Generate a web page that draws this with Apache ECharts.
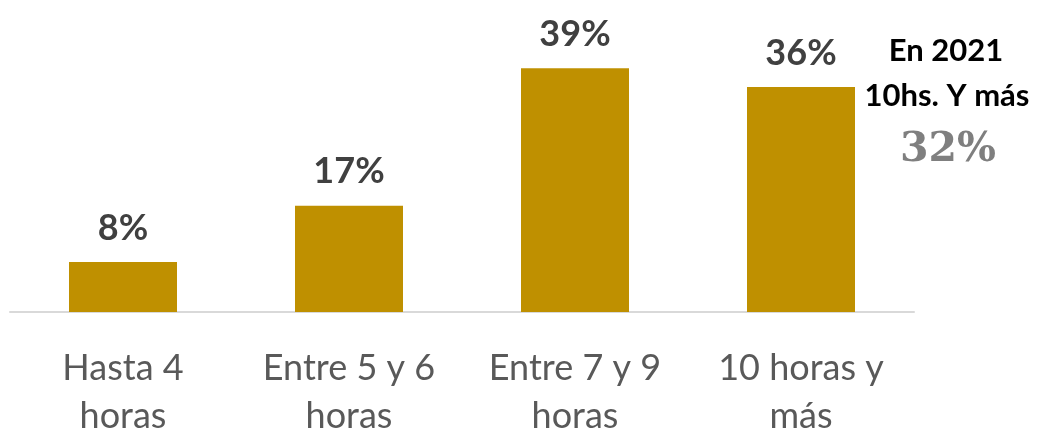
<!DOCTYPE html>
<html>
<head>
<meta charset="utf-8">
<script src="https://cdn.jsdelivr.net/npm/echarts@6/dist/echarts.min.js"></script>
<style>html,body{margin:0;padding:0;background:#fff;}#c{width:1043px;height:435px;}</style>
</head>
<body>
<div id="c"></div>
<script>
const categories = ['Hasta 4\nhoras', 'Entre 5 y 6\nhoras', 'Entre 7 y 9\nhoras', '10 horas y\nmás'];
const values = [8, 17, 39, 36];
const noteTitle = ['En 2021', '10hs. Y más'];
const noteValue = '32%';

const chart = echarts.init(document.getElementById('c'));
chart.setOption({
  animation: false,
  grid: { left: 10, right: 129, top: 62, bottom: 123, containLabel: false, outerBoundsMode: 'none' },
  xAxis: {
    type: 'category',
    data: categories,
    axisLine: { lineStyle: { color: '#d9d9d9', width: 2 } },
    axisTick: { show: false },
    axisLabel: { color: '#595959', fontSize: 36, fontFamily: 'Lato', lineHeight: 48, margin: 32 }
  },
  yAxis: { type: 'value', min: 0, max: 40, show: false, splitLine: { show: false } },
  series: [{
    type: 'bar',
    data: values,
    barWidth: 108,
    itemStyle: { color: '#BF9000' },
    label: {
      show: true, position: 'top', distance: 16,
      formatter: '{c}%', color: '#404040', fontSize: 36, fontWeight: 'bold', fontFamily: 'Lato'
    }
  }],
  graphic: [
    { type: 'text', x: 946, y: 51, style: { text: noteTitle[0], textAlign: 'center', textVerticalAlign: 'middle', fill: '#000', font: 'bold 31px Lato' } },
    { type: 'text', x: 947, y: 96, style: { text: noteTitle[1], textAlign: 'center', textVerticalAlign: 'middle', fill: '#000', font: 'bold 31px Lato' } },
    { type: 'text', x: 948, y: 150, style: { text: noteValue, textAlign: 'center', textVerticalAlign: 'middle', fill: '#7f7f7f', font: 'bold 41px "DejaVu Serif"' } }
  ]
});
</script>
</body>
</html>
